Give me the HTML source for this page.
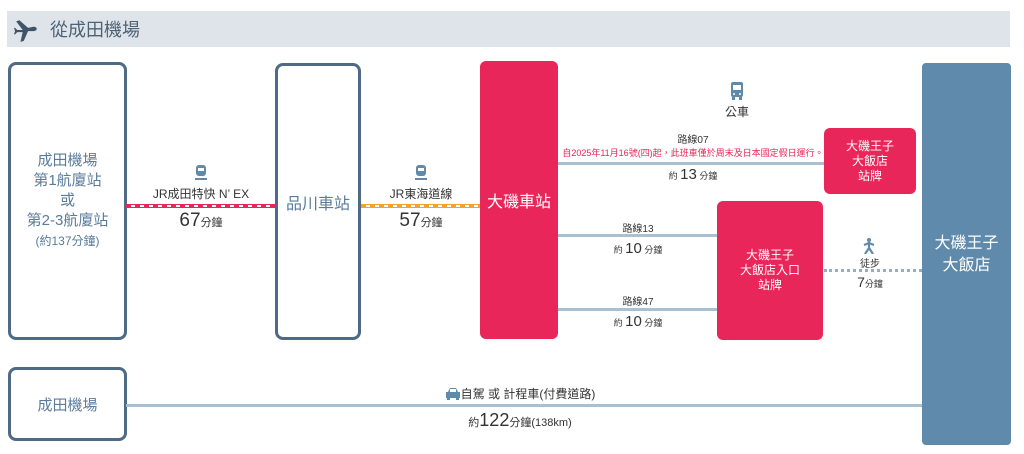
<!DOCTYPE html>
<html><head><meta charset="utf-8"><style>
body{margin:0;width:1024px;height:454px;background:#fff;position:relative;overflow:hidden;font-family:"Liberation Sans","Noto Sans CJK TC",sans-serif;}
.a{position:absolute}
.t{position:absolute;text-align:center;white-space:nowrap;color:#333}
.ob{position:absolute;border:3px solid #4f6a85;border-radius:8px;box-sizing:border-box;display:flex;flex-direction:column;align-items:center;justify-content:center;text-align:center;color:#5a7b9c}
.rb{position:absolute;background:#e8265a;border-radius:6px;color:#fff;display:flex;flex-direction:column;align-items:center;justify-content:center;text-align:center}
.ln{position:absolute;height:3px;background:#a9c0d3}
</style></head><body>
<div class="a" style="left:7px;top:11px;width:1003px;height:36px;background:#dfe4ea"></div>
<svg class="a" style="left:14px;top:17px" width="26" height="26" viewBox="0 0 24 24"><path fill="#3f5468" d="M2 4l3-1 8 7 5-1c2 0 3 1 3 2s-1 2-3 2l-5 0-4 9-3 1 2-9-5 0-2 2-1 0 1-3-1-3 1 0 2 2 5 0z"/></svg>
<div class="t" style="left:50px;top:16px;font-size:18px;color:#4d6275">從成田機場</div>

<div class="ob" style="left:8px;top:62px;width:119px;height:278px;font-size:15px;line-height:20px"><div>成田機場<br>第1航廈站<br>或<br>第2-3航廈站<br><span style="font-size:12px">(約137分鐘)</span></div></div>
<div class="a" style="left:126px;top:204px;width:150px;height:2px;background:repeating-linear-gradient(90deg,#e8265a 0 5px,#fff 5px 9px);border-top:1px solid #e8265a;border-bottom:1px solid #e8265a"></div>
<svg class="a" style="left:195px;top:164px" width="12" height="16" viewBox="0 0 12 16"><rect x="1" y="1" width="10" height="11" rx="3" fill="#5f8aab"/><rect x="3" y="4" width="6" height="3" fill="#fff"/><rect x="0" y="14" width="12" height="2" fill="#5f8aab"/></svg>
<div class="t" style="left:126px;width:150px;top:185px;font-size:12px">JR成田特快 N’ EX</div>
<div class="t" style="left:126px;width:150px;top:210px;font-size:11px"><span style="font-size:19px">67</span>分鐘</div>

<div class="ob" style="left:275px;top:63px;width:86px;height:277px;font-size:16px">品川車站</div>
<div class="a" style="left:361px;top:204px;width:120px;height:2px;background:repeating-linear-gradient(90deg,#f6a030 0 5px,#fff 5px 9px);border-top:1px solid #f6a030;border-bottom:1px solid #f6a030"></div>
<svg class="a" style="left:415px;top:164px" width="12" height="16" viewBox="0 0 12 16"><rect x="1" y="1" width="10" height="11" rx="3" fill="#5f8aab"/><rect x="3" y="4" width="6" height="3" fill="#fff"/><rect x="0" y="14" width="12" height="2" fill="#5f8aab"/></svg>
<div class="t" style="left:361px;width:120px;top:185px;font-size:12px">JR東海道線</div>
<div class="t" style="left:361px;width:120px;top:210px;font-size:11px"><span style="font-size:19px">57</span>分鐘</div>

<div class="rb" style="left:480px;top:61px;width:78px;height:278px;font-size:16px">大磯車站</div>

<svg class="a" style="left:730px;top:82px" width="14" height="18" viewBox="0 0 14 18"><rect x="1" y="0" width="12" height="15" rx="2" fill="#5f8aab"/><rect x="3" y="3" width="8" height="5" fill="#fff"/><circle cx="4" cy="12" r="1" fill="#fff"/><circle cx="10" cy="12" r="1" fill="#fff"/><rect x="2" y="15" width="3" height="3" fill="#5f8aab"/><rect x="9" y="15" width="3" height="3" fill="#5f8aab"/></svg>
<div class="t" style="left:717px;width:40px;top:103px;font-size:12px">公車</div>
<div class="ln" style="left:558px;top:162px;width:266px"></div>
<div class="t" style="left:558px;width:270px;top:131px;font-size:10px">路線07</div>
<div class="t" style="left:558px;width:270px;top:146px;font-size:9px;color:#e8265a">自2025年11月16號(四)起，此班車僅於周末及日本國定假日運行。</div>
<div class="t" style="left:558px;width:270px;top:166px;font-size:9px">約 <span style="font-size:15px">13</span> 分鐘</div>
<div class="rb" style="left:824px;top:128px;width:92px;height:66px;font-size:12px;line-height:15px"><div>大磯王子<br>大飯店<br>站牌</div></div>

<div class="ln" style="left:558px;top:234px;width:160px"></div>
<div class="t" style="left:558px;width:160px;top:220px;font-size:10px">路線13</div>
<div class="t" style="left:558px;width:160px;top:240px;font-size:9px">約 <span style="font-size:15px">10</span> 分鐘</div>
<div class="ln" style="left:558px;top:308px;width:160px"></div>
<div class="t" style="left:558px;width:160px;top:293px;font-size:10px">路線47</div>
<div class="t" style="left:558px;width:160px;top:313px;font-size:9px">約 <span style="font-size:15px">10</span> 分鐘</div>
<div class="rb" style="left:717px;top:201px;width:106px;height:139px;font-size:12px;line-height:15px"><div>大磯王子<br>大飯店入口<br>站牌</div></div>

<div class="a" style="left:824px;top:269px;width:98px;border-top:3px dotted #8fb0c8"></div>
<svg class="a" style="left:862px;top:238px" width="14" height="16" viewBox="0 0 14 16"><circle cx="7" cy="2" r="2" fill="#5f8aab"/><path d="M7 4 L7 10 M2 7 L7 5 L12 7 M7 10 L3 16 M7 10 L11 16" stroke="#5f8aab" stroke-width="2.2" fill="none"/></svg>
<div class="t" style="left:850px;width:40px;top:255px;font-size:10px">徒步</div>
<div class="t" style="left:850px;width:40px;top:274px;font-size:9px"><span style="font-size:14px">7</span>分鐘</div>

<div class="a" style="left:922px;top:63px;width:89px;height:382px;background:#5f8aab;border-radius:4px"></div>
<div class="t" style="left:922px;width:89px;top:233px;font-size:16px;line-height:22px;color:#fff">大磯王子<br>大飯店</div>

<div class="ob" style="left:8px;top:367px;width:119px;height:74px;font-size:15px">成田機場</div>
<div class="ln" style="left:126px;top:404px;width:796px"></div>
<div class="t" style="left:420px;width:200px;top:385px;font-size:12px"><svg width="16" height="13" viewBox="0 0 16 13" style="vertical-align:-2px"><path d="M3 5 L5 1 H11 L13 5 H15 V11 H1 V5 Z" fill="#5f8aab"/><rect x="2" y="11" width="3" height="2" fill="#5f8aab"/><rect x="11" y="11" width="3" height="2" fill="#5f8aab"/><rect x="5" y="2" width="6" height="3" fill="#fff"/></svg>自駕 或 計程車(付費道路)</div>
<div class="t" style="left:420px;width:200px;top:410px;font-size:11px">約<span style="font-size:18px">122</span>分鐘(138km)</div>
</body></html>
